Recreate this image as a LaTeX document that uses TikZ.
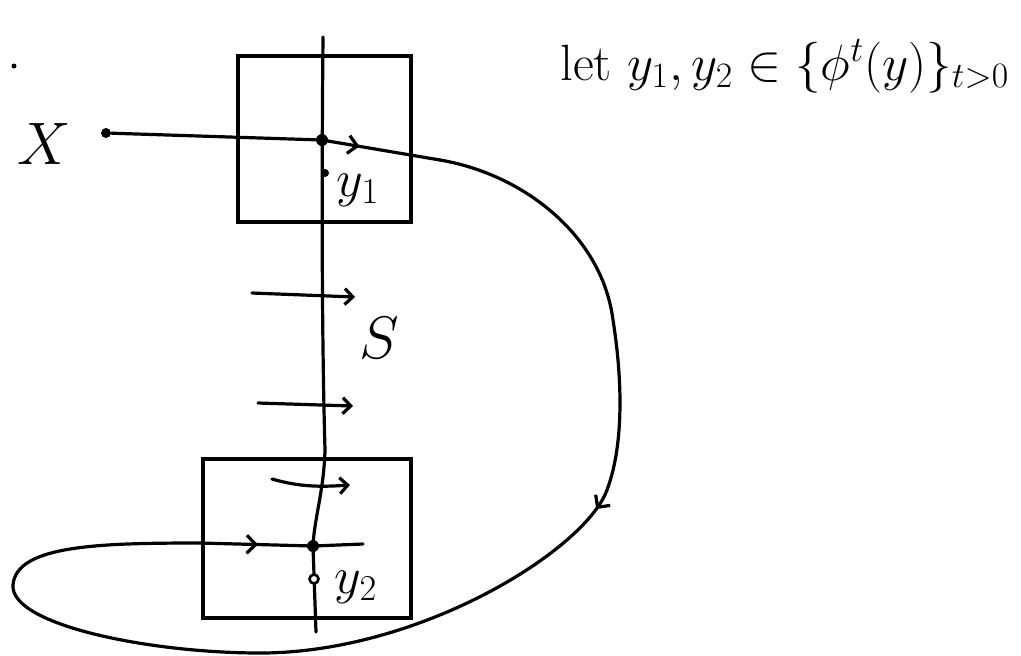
\RequirePackage{fix-cm}
\documentclass[tikz,border=0pt]{standalone}
\usetikzlibrary{arrows.meta,decorations.markings}
\begin{document}
\begin{tikzpicture}[x=0.5pt,y=0.5pt,yscale=-1,xscale=1,
        pen/.style={line width=1.6pt,line cap=round,line join=round},
        bigdot/.style={circle,fill,inner sep=0pt,minimum size=6pt},
        smalldot/.style={circle,fill,inner sep=0pt,minimum size=4pt},
        opendot/.style={circle,draw,line width=1.3pt,fill=white,inner sep=0pt,minimum size=4.5pt},
        box/.style={draw,line width=1.6pt,inner sep=0pt},
        barb/.style={-{Straight Barb[length=4pt,width=8pt]}},
        midbarb/.style={postaction={decorate},decoration={markings,mark=at position #1 with {\arrow{Straight Barb[length=4.5pt,width=9pt]}}}},
        lbl/.style={inner sep=0pt,font=\fontsize{26}{30}\selectfont}]
        \useasboundingbox (0,0) rectangle (1021,655);
        \node[box, minimum width=86.5pt, minimum height=83pt] (upbox) at (324.5,139) {};
        \node[box, minimum width=104pt, minimum height=79.5pt] (lowbox) at (307,538.5) {};
        \node[smalldot, minimum size=2.5pt] (speck) at (14,66) {};
        \node[lbl, font=\fontsize{30}{34}\selectfont] (Xlab) at (44,144) {$X$};
        \node[bigdot, minimum size=5pt] (x0) at (106,133) {};
        \node[bigdot] (p1) at (322,140) {};
        \node[smalldot] (y1) at (325,173) {};
        \node[bigdot] (p2) at (313,546) {};
        \draw[pen] (323,37) coordinate (Stop) .. controls (321,250) and (323,380) .. (325,450) .. controls (324,490) and (314,520) .. (p2.center) -- (316,632) coordinate (Sbot);
        \node[opendot] (y2) at (314,579) {};
        \node[lbl] (y1lab) at (358,190) {$y_1$};
        \node[lbl] (y2lab) at (356,587) {$y_2$};
        \node[lbl, font=\fontsize{30}{34}\selectfont] (Slab) at (379,338) {$S$};
        \node[anchor=base west, inner sep=0pt, font=\fontsize{25.5}{30}\selectfont] (claim) at (560,80) {let $y_1, y_2 \in \{\phi^t(y)\}_{t>0}$};
        \draw[pen] (x0) -- (p1);
        \draw[pen, midbarb=19pt] (p1.center) -- (440,160) coordinate (t1);
        \draw[pen] (t1) .. controls (523,174) and (602,235) .. (613,320) coordinate (t2) .. controls (624,390) and (622,450) .. (607,490) coordinate (t3);
        \draw[pen, midbarb=11pt] (t3) .. controls (585,550) and (420,653) .. (260,653) coordinate (t4) .. controls (150,653) and (10,625) .. (13,585) coordinate (t5) .. controls (16,545) and (100,543) .. (200,543) coordinate (t6);
        \draw[pen, midbarb=29pt] (t6) -- (p2.center);
        \draw[pen] (p2.center) -- (363,544) coordinate (pend);
        \draw[pen, barb] (252,293) coordinate (f1) -- (355,297) coordinate (g1);
        \draw[pen, barb] (258,403) coordinate (f2) -- (353,406) coordinate (g2);
        \draw[pen, barb] (272,479) coordinate (f3) .. controls (300,487) and (320,487) .. (350,485) coordinate (g3);
\end{tikzpicture}
\end{document}
